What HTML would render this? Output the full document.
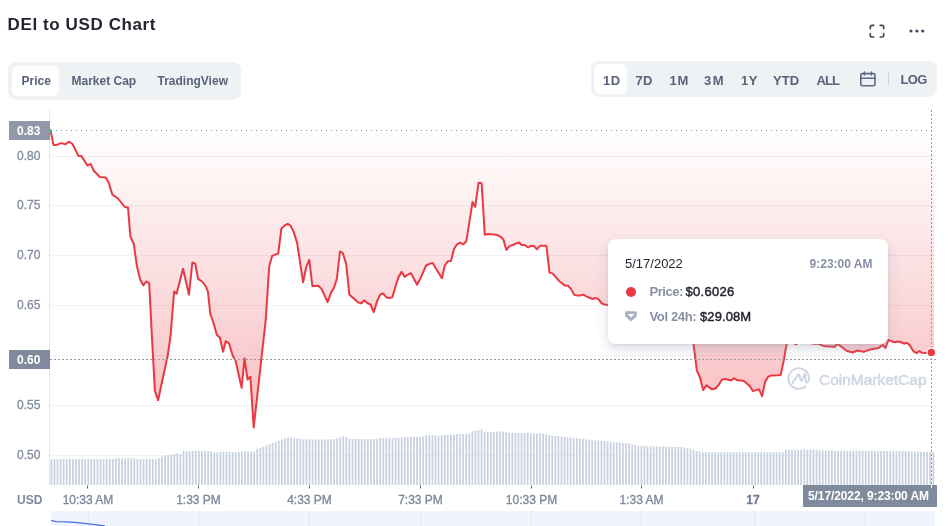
<!DOCTYPE html>
<html lang="en"><head><meta charset="utf-8"><title>DEI to USD Chart</title>
<style>
html,body{margin:0;padding:0;background:#fff;}
body{width:949px;height:526px;position:relative;overflow:hidden;font-family:"Liberation Sans",Arial,sans-serif;color:#222531;}
.abs{position:absolute;white-space:nowrap;}
h2.title{position:absolute;left:7.6px;top:15.2px;margin:0;font-size:17px;line-height:20px;font-weight:700;color:#222531;letter-spacing:0.6px;}
.grp{position:absolute;background:#eff2f5;border-radius:8px;}
.pill{position:absolute;background:#fff;border-radius:6px;}
.tab{position:absolute;font-size:12px;font-weight:700;color:#57637b;line-height:14px;white-space:nowrap;}
.rb{font-size:13px !important;line-height:15px !important;}
.ylab{position:absolute;left:17px;width:24px;font-size:12px;line-height:14px;color:#828b9e;text-align:left;-webkit-text-stroke:0.3px #828b9e;}
.xlab{position:absolute;top:492.5px;font-size:12px;line-height:14px;color:#7d879b;-webkit-text-stroke:0.3px #7d879b;transform:translateX(-50%);white-space:nowrap;}
.tag{position:absolute;background:#9298aa;color:#fff;font-weight:700;font-size:12px;line-height:14px;white-space:nowrap;}
.tip{position:absolute;left:608px;top:239px;width:280px;height:105px;background:#fff;border-radius:8px;box-shadow:0 1px 2px rgba(128,138,157,.12),0 5px 12px rgba(128,138,157,.3);}
</style></head><body>
<h2 class="title">DEI to USD Chart</h2>

<div class="grp" style="left:8px;top:62px;width:233px;height:38px"></div>
<div class="pill" style="left:12px;top:66px;width:47px;height:30px"></div>
<div class="tab" style="left:21.5px;top:73.5px">Price</div>
<div class="tab" style="left:71.5px;top:73.5px">Market Cap</div>
<div class="tab" style="left:157.5px;top:73.5px">TradingView</div>

<svg class="abs" style="left:866px;top:20px" width="64" height="22" viewBox="0 0 64 22">
<g fill="none" stroke="#3f475c" stroke-width="1.7" stroke-linecap="round" stroke-linejoin="round">
<path d="M4.3,8.6V6.9a1.6,1.6 0 0 1 1.6-1.6H7.7"/><path d="M14.3,5.3H16.1a1.6,1.6 0 0 1 1.6,1.6V8.6"/>
<path d="M17.7,13.7V15.4a1.6,1.6 0 0 1-1.6,1.6H14.3"/><path d="M7.7,17H5.9a1.6,1.6 0 0 1-1.6-1.6V13.7"/></g>
<g fill="#3f475c"><circle cx="45" cy="11" r="1.6"/><circle cx="50.9" cy="11" r="1.6"/><circle cx="56.7" cy="11" r="1.6"/></g>
</svg>

<div class="grp" style="left:591px;top:61px;width:346px;height:36px"></div>
<div class="pill" style="left:594px;top:64px;width:33px;height:30px"></div>
<div class="tab rb" style="left:603px;top:72.6px;letter-spacing:0.5px">1D</div>
<div class="tab rb" style="left:635.5px;top:72.6px;letter-spacing:0.3px">7D</div>
<div class="tab rb" style="left:669.5px;top:72.6px;letter-spacing:0.8px">1M</div>
<div class="tab rb" style="left:704px;top:72.6px;letter-spacing:1.6px">3M</div>
<div class="tab rb" style="left:741px;top:72.6px;letter-spacing:0.6px">1Y</div>
<div class="tab rb" style="left:773px;top:72.6px;letter-spacing:0.1px">YTD</div>
<div class="tab rb" style="left:816.5px;top:72.6px;letter-spacing:-0.9px">ALL</div>
<svg class="abs" style="left:858px;top:69px" width="20" height="20" viewBox="0 0 20 20"><g fill="none" stroke="#5d6a82" stroke-width="1.6" stroke-linecap="round" stroke-linejoin="round"><rect x="2.8" y="4.6" width="14.2" height="12.2" rx="1.6"/><path d="M2.8,9.2H17M6.4,3v3M13.4,3v3"/></g></svg>
<div class="abs" style="left:888px;top:72px;width:1px;height:13px;background:#cfd6e4"></div>
<div class="tab rb" style="left:900.5px;top:71.5px;letter-spacing:-0.7px">LOG</div>

<svg class="abs" style="left:0;top:0" width="949" height="526" viewBox="0 0 949 526">
<defs>
<linearGradient id="g" gradientUnits="userSpaceOnUse" x1="0" y1="130" x2="0" y2="430">
<stop offset="0" stop-color="#ea3943" stop-opacity="0"/>
<stop offset="1" stop-color="#ea3943" stop-opacity="0.34"/>
</linearGradient>
</defs>
<!-- gridlines -->
<g stroke="#eff2f5" stroke-width="1">
<path d="M50,156.5H936M50,205.5H936M50,255.5H936M50,305.5H936M50,355.5H936M50,405.5H936M50,455.5H936"/>
</g>
<path d="M49.5,110V485" stroke="#e3e7ee" stroke-width="1"/>
<!-- volume -->
<path d="M50.50,485V458.9h1.75V485zM53.57,485V458.9h1.75V485zM56.65,485V458.9h1.75V485zM59.72,485V458.9h1.75V485zM62.79,485V458.9h1.75V485zM65.86,485V458.9h1.75V485zM68.94,485V458.9h1.75V485zM72.01,485V458.9h1.75V485zM75.08,485V458.9h1.75V485zM78.16,485V458.9h1.75V485zM81.23,485V458.9h1.75V485zM84.30,485V458.9h1.75V485zM87.38,485V458.9h1.75V485zM90.45,485V458.9h1.75V485zM93.52,485V458.9h1.75V485zM96.59,485V458.9h1.75V485zM99.67,485V458.9h1.75V485zM102.74,485V458.9h1.75V485zM105.81,485V458.9h1.75V485zM108.89,485V458.9h1.75V485zM111.96,485V458.9h1.75V485zM115.03,485V458.3h1.75V485zM118.10,485V458.3h1.75V485zM121.18,485V458.3h1.75V485zM124.25,485V458.3h1.75V485zM127.32,485V458.3h1.75V485zM130.40,485V458.3h1.75V485zM133.47,485V458.4h1.75V485zM136.54,485V458.9h1.75V485zM139.61,485V458.9h1.75V485zM142.69,485V458.9h1.75V485zM145.76,485V458.9h1.75V485zM148.83,485V458.9h1.75V485zM151.91,485V458.9h1.75V485zM154.98,485V458.9h1.75V485zM158.05,485V458.2h1.75V485zM161.12,485V456.8h1.75V485zM164.20,485V455.5h1.75V485zM167.27,485V454.9h1.75V485zM170.34,485V454.4h1.75V485zM173.42,485V453.8h1.75V485zM176.49,485V453.3h1.75V485zM179.56,485V454.6h1.75V485zM182.64,485V451.1h1.75V485zM185.71,485V451.5h1.75V485zM188.78,485V451.3h1.75V485zM191.85,485V451.1h1.75V485zM194.93,485V451.0h1.75V485zM198.00,485V451.1h1.75V485zM201.07,485V451.1h1.75V485zM204.15,485V451.1h1.75V485zM207.22,485V451.2h1.75V485zM210.29,485V451.3h1.75V485zM213.36,485V452.5h1.75V485zM216.44,485V452.2h1.75V485zM219.51,485V451.9h1.75V485zM222.58,485V451.6h1.75V485zM225.66,485V451.6h1.75V485zM228.73,485V451.9h1.75V485zM231.80,485V452.1h1.75V485zM234.88,485V452.2h1.75V485zM237.95,485V451.9h1.75V485zM241.02,485V451.6h1.75V485zM244.09,485V451.3h1.75V485zM247.17,485V451.4h1.75V485zM250.24,485V451.4h1.75V485zM253.31,485V451.5h1.75V485zM256.39,485V448.9h1.75V485zM259.46,485V448.1h1.75V485zM262.53,485V446.9h1.75V485zM265.60,485V445.5h1.75V485zM268.68,485V444.1h1.75V485zM271.75,485V442.9h1.75V485zM274.82,485V441.7h1.75V485zM277.90,485V440.4h1.75V485zM280.97,485V439.4h1.75V485zM284.04,485V438.4h1.75V485zM287.11,485V437.4h1.75V485zM290.19,485V437.6h1.75V485zM293.26,485V437.9h1.75V485zM296.33,485V438.2h1.75V485zM299.41,485V438.8h1.75V485zM302.48,485V439.3h1.75V485zM305.55,485V439.3h1.75V485zM308.62,485V439.3h1.75V485zM311.70,485V439.4h1.75V485zM314.77,485V439.4h1.75V485zM317.84,485V439.4h1.75V485zM320.92,485V439.4h1.75V485zM323.99,485V439.5h1.75V485zM327.06,485V439.5h1.75V485zM330.14,485V439.3h1.75V485zM333.21,485V438.9h1.75V485zM336.28,485V438.5h1.75V485zM339.35,485V437.2h1.75V485zM342.43,485V436.3h1.75V485zM345.50,485V437.3h1.75V485zM348.57,485V438.8h1.75V485zM351.65,485V439.0h1.75V485zM354.72,485V439.0h1.75V485zM357.79,485V439.0h1.75V485zM360.86,485V439.0h1.75V485zM363.94,485V439.0h1.75V485zM367.01,485V439.0h1.75V485zM370.08,485V439.0h1.75V485zM373.16,485V439.0h1.75V485zM376.23,485V438.9h1.75V485zM379.30,485V438.0h1.75V485zM382.38,485V438.0h1.75V485zM385.45,485V438.0h1.75V485zM388.52,485V438.0h1.75V485zM391.59,485V438.0h1.75V485zM394.67,485V438.0h1.75V485zM397.74,485V438.0h1.75V485zM400.81,485V437.4h1.75V485zM403.89,485V437.0h1.75V485zM406.96,485V437.0h1.75V485zM410.03,485V437.0h1.75V485zM413.10,485V437.0h1.75V485zM416.18,485V437.0h1.75V485zM419.25,485V437.0h1.75V485zM422.32,485V436.4h1.75V485zM425.40,485V435.3h1.75V485zM428.47,485V435.3h1.75V485zM431.54,485V435.2h1.75V485zM434.61,485V435.5h1.75V485zM437.69,485V435.7h1.75V485zM440.76,485V435.4h1.75V485zM443.83,485V435.1h1.75V485zM446.91,485V434.9h1.75V485zM449.98,485V434.6h1.75V485zM453.05,485V434.4h1.75V485zM456.12,485V434.1h1.75V485zM459.20,485V434.0h1.75V485zM462.27,485V433.9h1.75V485zM465.34,485V433.7h1.75V485zM468.42,485V433.2h1.75V485zM471.49,485V430.9h1.75V485zM474.56,485V430.5h1.75V485zM477.64,485V430.0h1.75V485zM480.71,485V429.5h1.75V485zM483.78,485V431.8h1.75V485zM486.85,485V431.9h1.75V485zM489.93,485V431.8h1.75V485zM493.00,485V431.7h1.75V485zM496.07,485V431.6h1.75V485zM499.15,485V431.5h1.75V485zM502.22,485V431.4h1.75V485zM505.29,485V432.3h1.75V485zM508.36,485V432.7h1.75V485zM511.44,485V432.7h1.75V485zM514.51,485V432.8h1.75V485zM517.58,485V432.9h1.75V485zM520.66,485V433.0h1.75V485zM523.73,485V433.1h1.75V485zM526.80,485V433.1h1.75V485zM529.88,485V433.2h1.75V485zM532.95,485V433.3h1.75V485zM536.02,485V433.4h1.75V485zM539.09,485V433.5h1.75V485zM542.17,485V433.6h1.75V485zM545.24,485V434.2h1.75V485zM548.31,485V435.1h1.75V485zM551.39,485V435.5h1.75V485zM554.46,485V435.8h1.75V485zM557.53,485V436.1h1.75V485zM560.60,485V436.5h1.75V485zM563.68,485V436.8h1.75V485zM566.75,485V437.2h1.75V485zM569.82,485V437.5h1.75V485zM572.90,485V437.9h1.75V485zM575.97,485V438.2h1.75V485zM579.04,485V438.6h1.75V485zM582.11,485V438.9h1.75V485zM585.19,485V439.3h1.75V485zM588.26,485V439.7h1.75V485zM591.33,485V440.0h1.75V485zM594.41,485V440.3h1.75V485zM597.48,485V440.6h1.75V485zM600.55,485V440.9h1.75V485zM603.62,485V441.1h1.75V485zM606.70,485V441.4h1.75V485zM609.77,485V441.7h1.75V485zM612.84,485V442.0h1.75V485zM615.92,485V442.3h1.75V485zM618.99,485V442.6h1.75V485zM622.06,485V443.0h1.75V485zM625.14,485V443.3h1.75V485zM628.21,485V443.6h1.75V485zM631.28,485V444.2h1.75V485zM634.35,485V445.0h1.75V485zM637.43,485V446.0h1.75V485zM640.50,485V446.1h1.75V485zM643.57,485V446.1h1.75V485zM646.65,485V446.2h1.75V485zM649.72,485V446.3h1.75V485zM652.79,485V446.4h1.75V485zM655.86,485V446.4h1.75V485zM658.94,485V446.5h1.75V485zM662.01,485V446.6h1.75V485zM665.08,485V446.6h1.75V485zM668.16,485V446.7h1.75V485zM671.23,485V446.8h1.75V485zM674.30,485V446.8h1.75V485zM677.38,485V446.9h1.75V485zM680.45,485V447.0h1.75V485zM683.52,485V447.5h1.75V485zM686.59,485V448.0h1.75V485zM689.67,485V448.8h1.75V485zM692.74,485V450.1h1.75V485zM695.81,485V451.1h1.75V485zM698.89,485V451.7h1.75V485zM701.96,485V452.2h1.75V485zM705.03,485V452.2h1.75V485zM708.10,485V452.2h1.75V485zM711.18,485V452.2h1.75V485zM714.25,485V452.2h1.75V485zM717.32,485V452.2h1.75V485zM720.40,485V452.2h1.75V485zM723.47,485V452.2h1.75V485zM726.54,485V452.2h1.75V485zM729.61,485V452.2h1.75V485zM732.69,485V452.2h1.75V485zM735.76,485V452.2h1.75V485zM738.83,485V452.2h1.75V485zM741.91,485V452.2h1.75V485zM744.98,485V452.2h1.75V485zM748.05,485V452.2h1.75V485zM751.12,485V452.2h1.75V485zM754.20,485V452.2h1.75V485zM757.27,485V452.2h1.75V485zM760.34,485V452.2h1.75V485zM763.42,485V452.2h1.75V485zM766.49,485V452.2h1.75V485zM769.56,485V452.2h1.75V485zM772.64,485V452.2h1.75V485zM775.71,485V452.2h1.75V485zM778.78,485V452.2h1.75V485zM781.85,485V452.2h1.75V485zM784.93,485V449.7h1.75V485zM788.00,485V449.7h1.75V485zM791.07,485V449.8h1.75V485zM794.15,485V449.9h1.75V485zM797.22,485V449.9h1.75V485zM800.29,485V449.8h1.75V485zM803.36,485V449.4h1.75V485zM806.44,485V449.5h1.75V485zM809.51,485V449.6h1.75V485zM812.58,485V449.7h1.75V485zM815.66,485V449.8h1.75V485zM818.73,485V450.0h1.75V485zM821.80,485V450.4h1.75V485zM824.88,485V450.6h1.75V485zM827.95,485V450.6h1.75V485zM831.02,485V450.6h1.75V485zM834.09,485V450.7h1.75V485zM837.17,485V450.7h1.75V485zM840.24,485V450.7h1.75V485zM843.31,485V450.7h1.75V485zM846.39,485V450.7h1.75V485zM849.46,485V450.7h1.75V485zM852.53,485V450.8h1.75V485zM855.60,485V450.8h1.75V485zM858.68,485V450.8h1.75V485zM861.75,485V450.8h1.75V485zM864.82,485V450.8h1.75V485zM867.90,485V450.8h1.75V485zM870.97,485V450.9h1.75V485zM874.04,485V450.9h1.75V485zM877.11,485V450.9h1.75V485zM880.19,485V450.9h1.75V485zM883.26,485V450.9h1.75V485zM886.33,485V450.9h1.75V485zM889.41,485V450.9h1.75V485zM892.48,485V451.0h1.75V485zM895.55,485V451.0h1.75V485zM898.62,485V451.0h1.75V485zM901.70,485V451.1h1.75V485zM904.77,485V451.2h1.75V485zM907.84,485V451.3h1.75V485zM910.92,485V451.4h1.75V485zM913.99,485V451.5h1.75V485zM917.06,485V451.6h1.75V485zM920.14,485V451.7h1.75V485zM923.21,485V451.8h1.75V485zM926.28,485V451.9h1.75V485zM929.35,485V451.9h1.75V485zM932.43,485V452.0h1.75V485z" fill="#c9d1e1"/>
<!-- area + line -->
<path d="M50.5,130.3 L53.5,144.9 L56.5,144.9 L61.3,143.1 L65.6,144.2 L68.8,141.7 L72.5,144.0 L78.4,155.9 L81.5,156.1 L87.4,165.5 L90.6,163.9 L93.8,170.8 L99.7,176.9 L105.7,177.6 L108.6,182.4 L112.4,194.7 L118.0,198.5 L124.7,207.0 L128.0,207.5 L130.4,236.5 L133.8,244.0 L136.8,265.4 L140.2,279.8 L143.3,285.3 L146.2,281.5 L149.2,283.1 L152.1,340.0 L154.9,391.0 L158.1,400.2 L167.8,355.0 L170.6,335.3 L174.1,291.6 L176.6,293.8 L183.0,268.8 L189.0,294.7 L192.3,262.5 L195.2,263.7 L198.1,278.9 L202.0,281.5 L205.9,286.5 L207.9,291.6 L210.4,314.5 L213.0,321.2 L216.9,334.9 L219.8,337.5 L223.1,351.7 L225.7,341.2 L229.0,343.4 L232.9,356.1 L235.5,360.4 L241.6,387.8 L244.5,358.3 L247.5,379.5 L250.4,376.8 L253.7,427.5 L265.7,320.0 L269.2,266.6 L272.1,255.9 L278.2,253.6 L281.4,228.5 L284.5,225.7 L287.8,223.8 L290.4,225.5 L293.4,231.1 L297.1,242.9 L303.1,282.3 L306.1,267.5 L309.3,259.8 L312.4,286.1 L318.3,285.7 L321.7,289.1 L327.6,302.1 L331.0,292.8 L334.0,287.8 L336.9,278.5 L340.0,251.4 L342.8,253.1 L346.2,264.1 L349.3,294.5 L352.1,297.1 L358.3,302.5 L361.5,303.2 L364.4,300.3 L367.6,303.3 L370.6,304.5 L373.7,312.1 L377.1,301.1 L380.1,294.7 L383.0,293.4 L386.2,297.2 L389.3,298.1 L392.3,297.2 L395.7,285.8 L398.7,276.6 L401.6,271.9 L404.7,276.9 L407.5,274.8 L410.9,273.1 L417.1,284.7 L420.4,278.4 L426.1,265.5 L429.5,263.8 L432.6,263.0 L441.9,278.2 L444.8,265.5 L447.8,261.3 L451.0,261.0 L454.0,249.0 L457.0,244.3 L460.0,242.7 L463.3,244.4 L466.3,241.3 L472.5,202.1 L475.2,206.9 L478.6,182.7 L481.6,183.2 L484.8,234.7 L487.9,234.0 L494.1,234.4 L497.5,235.1 L500.6,236.8 L503.4,239.4 L506.4,249.9 L509.5,246.1 L512.8,245.0 L518.7,242.3 L521.7,245.0 L524.6,245.0 L528.0,247.3 L530.9,245.8 L533.9,246.1 L537.0,249.2 L540.2,245.7 L546.4,245.7 L549.5,272.6 L552.5,273.4 L558.8,280.7 L564.7,285.4 L568.1,285.8 L571.1,289.1 L574.0,294.6 L577.4,295.6 L580.4,295.4 L583.3,294.6 L586.3,296.3 L592.6,299.0 L595.7,297.9 L598.5,299.3 L601.9,303.5 L604.5,304.4 L607.8,304.9 L615.0,306.0 L622.0,310.0 L630.0,312.0 L640.0,315.0 L650.0,318.0 L660.0,322.0 L670.0,325.0 L680.0,328.0 L690.0,331.0 L693.5,344.0 L696.9,370.7 L700.0,377.5 L703.2,390.1 L706.2,385.4 L712.1,389.3 L715.5,388.5 L718.6,385.1 L721.8,379.7 L724.8,379.1 L730.8,380.3 L734.1,378.3 L737.5,380.3 L743.5,380.8 L746.8,383.4 L749.9,386.3 L752.8,391.0 L756.1,390.1 L759.0,389.3 L762.1,396.1 L765.1,381.7 L768.3,376.6 L771.4,375.4 L777.6,375.3 L780.7,374.9 L783.6,361.4 L786.6,344.0 L790.0,341.0 L795.8,344.3 L798.5,342.5 L807.0,342.0 L813.5,343.8 L818.0,343.6 L822.0,345.4 L825.4,346.2 L831.3,346.6 L834.3,347.1 L837.2,344.2 L840.6,345.9 L846.5,350.8 L852.5,352.5 L857.5,350.5 L863.5,351.8 L870.2,349.6 L878.7,347.9 L882.6,345.0 L885.4,347.9 L888.5,340.0 L891.4,341.2 L894.8,342.3 L897.3,341.5 L900.7,342.0 L904.1,343.7 L906.6,342.8 L909.6,344.9 L913.4,351.3 L916.8,353.0 L919.3,351.0 L921.8,352.7 L925.2,353.0 L931.3,352.4 L934.0,352.6 L934.0,130.3 L50.5,130.3 Z" fill="url(#g)"/>
<path d="M51,130.5H936" stroke="#808a9d" stroke-width="1" stroke-dasharray="1 4"/>
<path d="M50.5,130.3 L53.5,144.9 L56.5,144.9 L61.3,143.1 L65.6,144.2 L68.8,141.7 L72.5,144.0 L78.4,155.9 L81.5,156.1 L87.4,165.5 L90.6,163.9 L93.8,170.8 L99.7,176.9 L105.7,177.6 L108.6,182.4 L112.4,194.7 L118.0,198.5 L124.7,207.0 L128.0,207.5 L130.4,236.5 L133.8,244.0 L136.8,265.4 L140.2,279.8 L143.3,285.3 L146.2,281.5 L149.2,283.1 L152.1,340.0 L154.9,391.0 L158.1,400.2 L167.8,355.0 L170.6,335.3 L174.1,291.6 L176.6,293.8 L183.0,268.8 L189.0,294.7 L192.3,262.5 L195.2,263.7 L198.1,278.9 L202.0,281.5 L205.9,286.5 L207.9,291.6 L210.4,314.5 L213.0,321.2 L216.9,334.9 L219.8,337.5 L223.1,351.7 L225.7,341.2 L229.0,343.4 L232.9,356.1 L235.5,360.4 L241.6,387.8 L244.5,358.3 L247.5,379.5 L250.4,376.8 L253.7,427.5 L265.7,320.0 L269.2,266.6 L272.1,255.9 L278.2,253.6 L281.4,228.5 L284.5,225.7 L287.8,223.8 L290.4,225.5 L293.4,231.1 L297.1,242.9 L303.1,282.3 L306.1,267.5 L309.3,259.8 L312.4,286.1 L318.3,285.7 L321.7,289.1 L327.6,302.1 L331.0,292.8 L334.0,287.8 L336.9,278.5 L340.0,251.4 L342.8,253.1 L346.2,264.1 L349.3,294.5 L352.1,297.1 L358.3,302.5 L361.5,303.2 L364.4,300.3 L367.6,303.3 L370.6,304.5 L373.7,312.1 L377.1,301.1 L380.1,294.7 L383.0,293.4 L386.2,297.2 L389.3,298.1 L392.3,297.2 L395.7,285.8 L398.7,276.6 L401.6,271.9 L404.7,276.9 L407.5,274.8 L410.9,273.1 L417.1,284.7 L420.4,278.4 L426.1,265.5 L429.5,263.8 L432.6,263.0 L441.9,278.2 L444.8,265.5 L447.8,261.3 L451.0,261.0 L454.0,249.0 L457.0,244.3 L460.0,242.7 L463.3,244.4 L466.3,241.3 L472.5,202.1 L475.2,206.9 L478.6,182.7 L481.6,183.2 L484.8,234.7 L487.9,234.0 L494.1,234.4 L497.5,235.1 L500.6,236.8 L503.4,239.4 L506.4,249.9 L509.5,246.1 L512.8,245.0 L518.7,242.3 L521.7,245.0 L524.6,245.0 L528.0,247.3 L530.9,245.8 L533.9,246.1 L537.0,249.2 L540.2,245.7 L546.4,245.7 L549.5,272.6 L552.5,273.4 L558.8,280.7 L564.7,285.4 L568.1,285.8 L571.1,289.1 L574.0,294.6 L577.4,295.6 L580.4,295.4 L583.3,294.6 L586.3,296.3 L592.6,299.0 L595.7,297.9 L598.5,299.3 L601.9,303.5 L604.5,304.4 L607.8,304.9 L615.0,306.0 L622.0,310.0 L630.0,312.0 L640.0,315.0 L650.0,318.0 L660.0,322.0 L670.0,325.0 L680.0,328.0 L690.0,331.0 L693.5,344.0 L696.9,370.7 L700.0,377.5 L703.2,390.1 L706.2,385.4 L712.1,389.3 L715.5,388.5 L718.6,385.1 L721.8,379.7 L724.8,379.1 L730.8,380.3 L734.1,378.3 L737.5,380.3 L743.5,380.8 L746.8,383.4 L749.9,386.3 L752.8,391.0 L756.1,390.1 L759.0,389.3 L762.1,396.1 L765.1,381.7 L768.3,376.6 L771.4,375.4 L777.6,375.3 L780.7,374.9 L783.6,361.4 L786.6,344.0 L790.0,341.0 L795.8,344.3 L798.5,342.5 L807.0,342.0 L813.5,343.8 L818.0,343.6 L822.0,345.4 L825.4,346.2 L831.3,346.6 L834.3,347.1 L837.2,344.2 L840.6,345.9 L846.5,350.8 L852.5,352.5 L857.5,350.5 L863.5,351.8 L870.2,349.6 L878.7,347.9 L882.6,345.0 L885.4,347.9 L888.5,340.0 L891.4,341.2 L894.8,342.3 L897.3,341.5 L900.7,342.0 L904.1,343.7 L906.6,342.8 L909.6,344.9 L913.4,351.3 L916.8,353.0 L919.3,351.0 L921.8,352.7 L925.2,353.0 L931.3,352.4 L934.0,352.6" fill="none" stroke="#ea3943" stroke-width="2" stroke-linejoin="round" stroke-linecap="round"/>
<path d="M50.4,130.2L50.8,131.6" stroke="#16c784" stroke-width="2" stroke-linecap="round"/>
<!-- ticks -->
<g stroke="#58667e" stroke-width="1"><path d="M87.5,485.5v3M198.5,485.5v3M309.5,485.5v3M420.5,485.5v3M531.5,485.5v3M641.5,485.5v3M753.5,485.5v3"/></g>
<!-- crosshair -->
<path d="M50,359.5H936" stroke="#96999f" stroke-width="1" stroke-dasharray="2 2"/>
<path d="M931.5,110V486" stroke="#96999f" stroke-width="1" stroke-dasharray="2 2"/>
<circle cx="931.3" cy="352.4" r="4.8" fill="#fff"/><circle cx="931.3" cy="352.4" r="3.7" fill="#ea3943"/>
<!-- watermark -->
<g fill="none" stroke="#cfd6e4" stroke-width="2" stroke-linecap="round" stroke-linejoin="round">
<path d="M805.6,386.2A10.3,10.3 0 1 1 809,377.9C809.1,380.8 808.2,382.4 806.9,382.4C805.7,382.4 805.4,381.2 805.4,379.6V375.2Q805.3,373 804.2,375.2L801.9,380.2Q801.3,381.6 800.8,380.2L799.4,375.4Q798.8,373.4 797.8,375.2L792.6,382.6"/>
</g>
<text x="819" y="384.5" font-family="'Liberation Sans',Arial,sans-serif" font-weight="400" font-size="14" fill="#cfd6e4" stroke="#cfd6e4" stroke-width="0.5" textLength="107.5" lengthAdjust="spacingAndGlyphs">CoinMarketCap</text>
<!-- bottom strip -->
<rect x="51" y="511" width="884" height="15" fill="#f0f4ff"/>
<g stroke="#e3e7f4" stroke-width="1"><path d="M88.5,511v15M198.5,511v15M309.5,511v15M420.5,511v15M531.5,511v15M641.5,511v15M754.5,511v15M865.5,511v15"/></g>
<path d="M51,520.3L56,521.6L66,521.8L75,522.4L86,523.6L95,524.6L105,526" fill="none" stroke="#4a6fe0" stroke-width="1.3"/>
</svg>

<div class="tag" style="left:9px;top:121px;width:41px;height:19px;"><span style="position:absolute;left:8px;top:3px">0.83</span></div>
<div class="ylab" style="top:149px">0.80</div>
<div class="ylab" style="top:198px">0.75</div>
<div class="ylab" style="top:248px">0.70</div>
<div class="ylab" style="top:298px">0.65</div>
<div class="tag" style="left:9px;top:350px;width:41px;height:19px;background:#808a9d"><span style="position:absolute;left:8px;top:3px">0.60</span></div>
<div class="ylab" style="top:398px">0.55</div>
<div class="ylab" style="top:448px">0.50</div>

<div class="abs" style="left:17px;top:492.5px;font-size:12px;line-height:14px;font-weight:700;color:#7d879b">USD</div>
<div class="xlab" style="left:88px">10:33 AM</div>
<div class="xlab" style="left:198.5px">1:33 PM</div>
<div class="xlab" style="left:309.5px">4:33 PM</div>
<div class="xlab" style="left:420.5px">7:33 PM</div>
<div class="xlab" style="left:531.5px">10:33 PM</div>
<div class="xlab" style="left:641.5px">1:33 AM</div>
<div class="xlab" style="left:753px;font-weight:700;color:#6b768c">17</div>
<div class="tag" style="left:803px;top:485px;width:134px;height:22px;background:#808a9d"><span style="position:absolute;left:5px;top:4px;letter-spacing:-0.1px">5/17/2022, 9:23:00 AM</span></div>
<div class="abs" style="left:931px;top:485px;width:1px;height:3px;background:#fff"></div>

<div class="tip">
<div class="abs" style="left:17px;top:16.5px;font-size:13px;line-height:16px;color:#222531">5/17/2022</div>
<div class="abs" style="right:15.5px;top:17.5px;font-size:12px;line-height:14px;font-weight:700;color:#8690a4">9:23:00 AM</div>
<div class="abs" style="left:18px;top:47.5px;width:10px;height:10px;border-radius:50%;background:#ea3943"></div>
<div class="abs" style="left:41.5px;top:44.7px;font-size:13px;line-height:16px;font-weight:700;color:#8690a4;letter-spacing:-0.45px">Price:</div>
<div class="abs" style="left:77.5px;top:44.7px;font-size:13px;line-height:16px;font-weight:400;-webkit-text-stroke:0.45px #222531;color:#222531;letter-spacing:0.3px">$0.6026</div>
<svg class="abs" style="left:16px;top:71px" width="14" height="13" viewBox="0 0 14 13"><path d="M1.2,2.3a1,1 0 0 1 1-1h9.6a1,1 0 0 1 1,1v3.6a1,1 0 0 1-.4,.8l-4.8,4.3a1,1 0 0 1-1.3,0l-4.7-4.3a1,1 0 0 1-.4-.8z" fill="#a6b0c3"/><path d="M3.7,3.9h6.6l-3.3,3.7z" fill="#fff"/></svg>
<div class="abs" style="left:41.5px;top:70px;font-size:13px;line-height:16px;font-weight:700;color:#8690a4;letter-spacing:-0.35px">Vol 24h:</div>
<div class="abs" style="left:92px;top:70px;font-size:13px;line-height:16px;font-weight:400;-webkit-text-stroke:0.45px #222531;color:#222531;letter-spacing:0.1px">$29.08M</div>
</div>
</body></html>
